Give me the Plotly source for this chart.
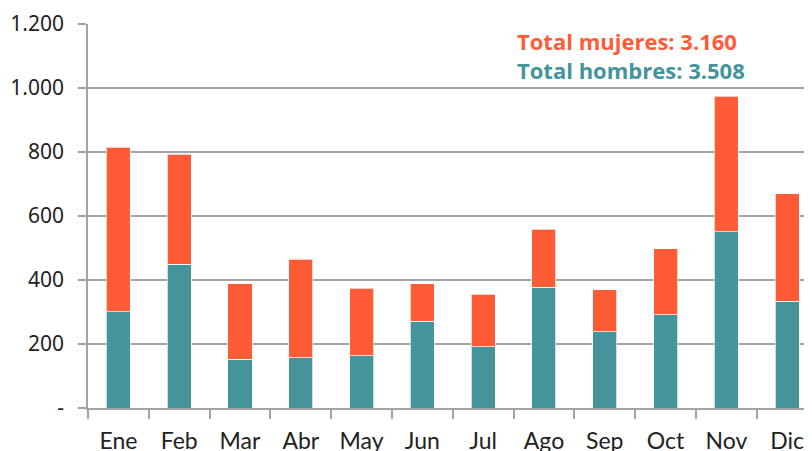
import plotly.graph_objects as go

meses = ["Ene", "Feb", "Mar", "Abr", "May", "Jun", "Jul", "Ago", "Sep", "Oct", "Nov", "Dic"]
hombres = [301, 449, 152, 157, 163, 271, 192, 377, 238, 292, 551, 333]
mujeres = [514, 344, 236, 308, 211, 117, 164, 181, 132, 206, 423, 337]
y_tickvals = [0, 200, 400, 600, 800, 1000, 1200]
y_ticktext = ["-", "200", "400", "600", "800", "1.000", "1.200"]
total_mujeres = "3.160"
total_hombres = "3.508"

teal = "#45939B"
orange = "#FF5B37"
grid = "#a3a3a3"

fig = go.Figure()
fig.add_trace(go.Bar(x=meses, y=hombres, name="Hombres", marker_color=teal,
                     marker_line=dict(color="rgba(255,255,255,0.7)", width=1)))
fig.add_trace(go.Bar(x=meses, y=mujeres, name="Mujeres", marker_color=orange,
                     marker_line=dict(color="rgba(255,255,255,0.7)", width=1)))

fig.update_layout(
    barmode="stack",
    bargap=0.605,
    width=812, height=451,
    margin=dict(l=80, r=0, t=16, b=51),
    plot_bgcolor="white", paper_bgcolor="white",
    showlegend=False,
    font=dict(family="Noto Sans", size=20, color="#222222"),
)
fig.update_yaxes(
    range=[0, 1200], tickvals=y_tickvals, ticktext=y_ticktext,
    showgrid=True, gridcolor=grid, gridwidth=1.5,
    showline=True, linecolor=grid, linewidth=1.5,
    ticks="outside", ticklen=8, tickcolor=grid, tickwidth=1.5,
    ticklabelstandoff=10,
    zeroline=False,
    tickfont=dict(family="Noto Sans", size=21, color="#222222"),
)
fig.update_xaxes(
    range=[-0.5, 11.54],
    showline=True, linecolor=grid, linewidth=1.5,
    ticks="outside", tickson="boundaries", ticklen=9, tickcolor=grid, tickwidth=1.5,
    tickfont=dict(family="Lato", size=23, color="#222222"),
    ticklabelstandoff=12,
)
fig.add_annotation(xref="paper", yref="paper", x=0.583, y=0.955, xanchor="left", yanchor="middle",
                   text="<b>Total mujeres: " + total_mujeres + "</b>", showarrow=False,
                   font=dict(family="Open Sans", size=22, color=orange))
fig.add_annotation(xref="paper", yref="paper", x=0.583, y=0.88, xanchor="left", yanchor="middle",
                   text="<b>Total hombres: " + total_hombres + "</b>", showarrow=False,
                   font=dict(family="Open Sans", size=22, color=teal))

fig.write_html("out.html")
